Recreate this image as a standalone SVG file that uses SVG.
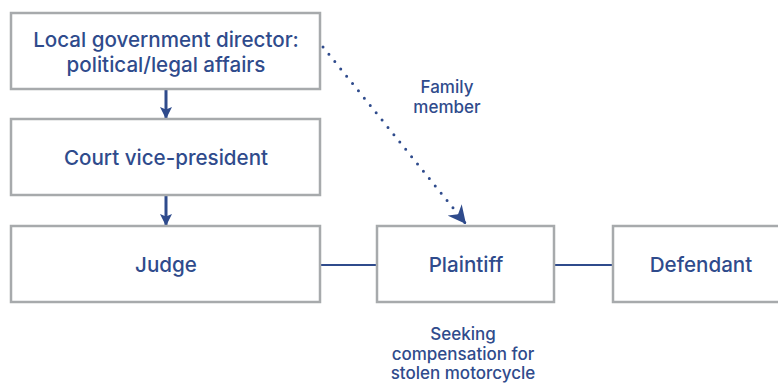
<svg xmlns="http://www.w3.org/2000/svg" width="778" height="383" viewBox="0 0 778 383">
<defs>
<style>
.box{fill:#fff;stroke:#a7aaac;stroke-width:2.5}
.t{font-family:Inter,"Liberation Sans",Arial,sans-serif;fill:#2f4b8c;text-anchor:middle;font-weight:500}
.big{font-size:20.6px}
.small{font-size:17px}
.ln{stroke:#2f4b8c;stroke-width:2;fill:none}
</style>
<marker id="ah" viewBox="0 0 10 10" refX="10" refY="5" markerWidth="4" markerHeight="4.2" orient="auto" markerUnits="strokeWidth"><path d="M0,0 L10,5 L0,10 L2,5 z" fill="#2f4b8c"/></marker>
<marker id="ah2" viewBox="0 0 10 10" refX="10" refY="5" markerWidth="6" markerHeight="6" orient="auto" markerUnits="strokeWidth"><path d="M0,0 L10,5 L0,10 L3,5 z" fill="#2f4b8c"/></marker>
</defs>
<g id="connectors">
<line class="ln" x1="166" y1="90" x2="166" y2="119" style="stroke-width:3" marker-end="url(#ah)"/>
<line class="ln" x1="166" y1="196" x2="166" y2="226" style="stroke-width:3" marker-end="url(#ah)"/>
<line class="ln" x1="320" y1="265" x2="377" y2="265"/>
<line class="ln" x1="554" y1="265" x2="613" y2="265"/>
<line class="ln" x1="323" y1="47" x2="466" y2="224" style="stroke-width:3;stroke-dasharray:0 9.4;stroke-linecap:round" marker-end="url(#ah2)"/>
</g>
<g id="n1"><rect class="box" x="11" y="13" width="309" height="76"/><text class="t big" x="166" y="47">Local government director:</text><text class="t big" x="166" y="72">political/legal affairs</text></g>
<g id="n2"><rect class="box" x="11" y="119" width="309" height="76"/><text class="t big" x="166" y="165">Court vice-president</text></g>
<g id="n3"><rect class="box" x="11" y="226" width="309" height="76"/><text class="t big" x="166" y="272">Judge</text></g>
<g id="n4"><rect class="box" x="377" y="226" width="177" height="76"/><text class="t big" x="466" y="272">Plaintiff</text></g>
<g id="n5"><rect class="box" x="613" y="226" width="176" height="76"/><text class="t big" x="701" y="272">Defendant</text></g>
<g id="l1"><text class="t small" x="447" y="93">Family</text><text class="t small" x="447" y="113">member</text></g>
<g id="l2"><text class="t small" x="463" y="340">Seeking</text><text class="t small" x="463" y="360">compensation for</text><text class="t small" x="463" y="379">stolen motorcycle</text></g>
</svg>
